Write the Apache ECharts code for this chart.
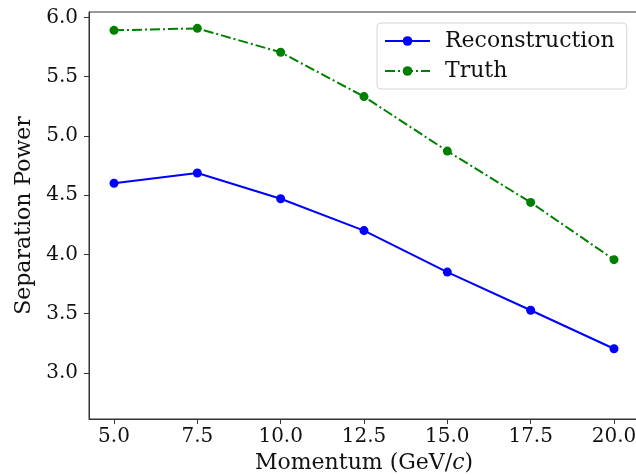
<!DOCTYPE html>
<html>
<head>
<meta charset="utf-8">
<script src="https://cdn.jsdelivr.net/npm/echarts@6/dist/echarts.min.js"></script>
<style>
  html, body { margin: 0; padding: 0; background: #fff; }
  #chart { width: 636px; height: 475px; }
</style>
</head>
<body>
<div id="chart"></div>
<script>
// Momentum points (GeV/c)
const momentum = [5.0, 7.5, 10.0, 12.5, 15.0, 17.5, 20.0];
// Separation power per momentum point
const reconstruction = [4.60, 4.686, 4.469, 4.20, 3.85, 3.528, 3.203];
const truth = [5.890, 5.907, 5.705, 5.331, 4.871, 4.438, 3.955];
// Tick labels
const xTicks = [5.0, 7.5, 10.0, 12.5, 15.0, 17.5, 20.0];
const yTicks = [3.0, 3.5, 4.0, 4.5, 5.0, 5.5, 6.0];

const font = 'DejaVu Serif';
const pair = (xs, ys) => xs.map((x, i) => [x, ys[i]]);

const chart = echarts.init(document.getElementById('chart'), null, { renderer: 'canvas' });
chart.setOption({
  animation: false,
  backgroundColor: '#ffffff',
  grid: {
    left: 89, top: 12, right: -3, bottom: 56,
    outerBoundsMode: 'none', containLabel: false,
    show: true, borderColor: '#333', borderWidth: 1
  },
  legend: {
    left: 377, top: 23,
    orient: 'vertical',
    itemWidth: 45, itemHeight: 12, itemGap: 8,
    padding: [7, 12, 7, 7],
    backgroundColor: '#fff',
    borderColor: '#d6d6d6', borderWidth: 1, borderRadius: 4,
    textStyle: { fontFamily: font, fontSize: 22, color: '#111', padding: [0, 0, 0, 10] },
    data: ['Reconstruction', 'Truth']
  },
  xAxis: {
    type: 'value',
    min: 4.25, max: 20.75,
    name: 'Momentum (GeV/{i|c})',
    nameLocation: 'middle', nameGap: 33,
    nameTextStyle: {
      fontFamily: font, fontSize: 22, color: '#111',
      rich: { i: { fontFamily: font, fontSize: 22, fontStyle: 'italic', color: '#111' } }
    },
    axisLine: { show: true, onZero: false, lineStyle: { color: '#333', width: 1 } },
    axisTick: { show: true, length: 5, customValues: xTicks, lineStyle: { color: '#333' } },
    axisLabel: {
      customValues: xTicks, margin: 8,
      fontFamily: font, fontSize: 20, color: '#111',
      formatter: v => v.toFixed(1)
    },
    splitLine: { show: false }
  },
  yAxis: {
    type: 'value',
    min: 2.61, max: 6.045,
    name: 'Separation Power',
    nameLocation: 'middle', nameGap: 47,
    nameTextStyle: { fontFamily: font, fontSize: 22, color: '#111' },
    axisLine: { show: true, onZero: false, lineStyle: { color: '#333', width: 1 } },
    axisTick: { show: true, length: 5, customValues: yTicks, lineStyle: { color: '#333' } },
    axisLabel: {
      customValues: yTicks, margin: 11,
      fontFamily: font, fontSize: 20, color: '#111',
      formatter: v => v.toFixed(1)
    },
    splitLine: { show: false }
  },
  series: [
    {
      name: 'Reconstruction',
      type: 'line',
      data: pair(momentum, reconstruction),
      symbol: 'circle', symbolSize: 9,
      itemStyle: { color: '#0000ff' },
      lineStyle: { color: '#0000ff', width: 2 }
    },
    {
      name: 'Truth',
      type: 'line',
      data: pair(momentum, truth),
      symbol: 'circle', symbolSize: 9,
      itemStyle: { color: '#008000' },
      lineStyle: { color: '#008000', width: 2, type: [10, 3, 2, 3] }
    }
  ]
});
</script>
</body>
</html>
